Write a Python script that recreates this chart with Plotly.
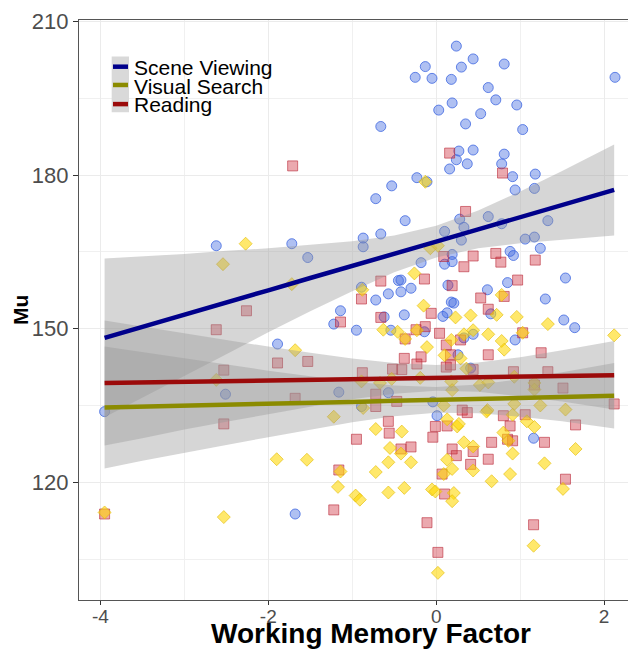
import plotly.graph_objects as go

# ---------------- data ----------------
scene_x = [0.24, 0.44, 0.81, -0.13, 0.30, -0.25, -0.05, 0.18, 2.13, 0.62, 0.71, 0.96, 0.19, 0.03, 0.53,
           -0.66, 0.35, 1.03, 0.27, 0.44, 0.81, 0.24, 0.37, 0.78, 0.16, -0.23, -0.11, 0.91, 1.18, -0.53,
           -0.72, 0.94, 1.17, 0.62, 0.28, -0.37, 1.33, 0.78, 0.33, -0.66, -0.87, -0.87, -1.53, 0.10, -0.18,
           0.10, 0.19, 0.19, 0.30, 1.06, 1.17, 1.24, 0.88, 0.92, -0.45, -0.42, -0.30, -0.57, -0.42, -0.72,
           -0.89, 0.14, -1.14, -1.22, -0.95, -0.62, -0.38, -0.54, -0.14, 0.08, 0.13, 0.18, 0.21, 1.54, 1.30,
           0.85, 0.61, 1.52, 1.65, 0.65, 0.94, 0.44, 0.33, 0.41, 0.26, -1.16, -0.57, -0.04, -0.89, 0.01,
           1.16, -2.62, -1.72, -1.89, -2.51, -3.95, -1.68]
scene_y = [205.2, 202.7, 201.7, 201.2, 201.1, 199.1, 198.9, 198.7, 199.1, 197.1, 194.7, 193.7, 194.1, 192.7, 192.0,
           189.5, 190.0, 188.9, 184.7, 184.9, 184.1, 183.0, 182.2, 182.2, 181.2, 179.5, 178.7, 179.7, 180.2, 177.9,
           175.4, 177.1, 177.4, 171.9, 171.4, 171.1, 171.1, 170.5, 169.8, 168.5, 167.7, 166.0, 163.9, 169.0, 162.9,
           162.6, 163.1, 164.5, 167.3, 167.5, 167.9, 165.7, 165.1, 164.3, 159.4, 159.5, 157.9, 156.8, 157.2, 155.6,
           158.1, 158.5, 153.5, 150.9, 149.7, 152.3, 152.7, 149.7, 149.4, 152.4, 153.1, 155.2, 155.0, 159.9, 155.8,
           159.0, 157.6, 151.7, 150.2, 152.9, 147.8, 148.9, 148.2, 142.3, 144.9, 137.6, 137.5, 135.7, 134.8, 133.0,
           128.6, 166.2, 166.6, 147.0, 137.2, 133.8, 113.8]

reading_x = [-1.71, 0.16, 0.79, 0.35, -2.26, -2.62, -1.89, -1.53, -2.53, -1.68, -2.53, -3.95, -0.66, -0.14, -0.89,
             -1.14, -0.66, -0.06, -0.24, -0.13, 0.04, 0.09, 0.19, -0.38, -0.18, 0.44, 0.71, 0.77, 0.33, 1.18,
             0.97, 0.81, 0.53, 0.62, 1.25, 0.62, 0.29, 0.12, 0.17, 0.17, 0.12, 0.44, 0.92, 1.33, 1.51,
             2.12, -0.23, -0.52, -0.41, -0.88, -0.72, -0.72, -0.47, -0.57, -0.56, -0.95, -0.42, -0.30, -0.01, -0.04,
             0.13, 0.19, 0.24, -1.16, 0.07, 0.10, -1.22, -0.11, 0.02, 1.17, 0.31, 0.37, 0.80, 1.06, 0.88,
             1.66, 0.66, 0.91, 0.85, 1.29, 0.44, 0.62, 0.41, 1.54, 1.16, 1.03, -0.37]
reading_y = [181.8, 184.3, 180.4, 172.9, 153.5, 149.8, 143.3, 143.6, 141.9, 136.4, 131.4, 113.8, 159.3, 159.7, 155.8,
             151.3, 152.2, 153.0, 149.8, 150.4, 149.1, 164.1, 158.4, 144.2, 144.5, 164.2, 164.7, 163.0, 162.1, 163.4,
             159.5, 156.3, 156.0, 153.8, 145.3, 144.9, 147.8, 146.8, 144.9, 142.9, 142.5, 142.0, 141.6, 141.6, 138.4,
             135.3, 143.1, 142.1, 142.0, 141.4, 137.2, 134.8, 135.8, 131.9, 129.6, 128.4, 126.5, 126.9, 130.9, 128.8,
             131.0, 126.5, 125.2, 122.4, 121.6, 117.7, 114.6, 112.1, 106.3, 139.0, 134.1, 133.6, 133.0, 133.2, 131.0,
             131.2, 127.8, 128.1, 128.4, 127.8, 126.0, 124.5, 123.5, 120.6, 111.7, 149.2, 148.0]

visual_x = [-0.13, -2.27, -2.54, -1.72, -1.68, -2.62, -1.90, -1.54, -3.95, -2.53, -0.26, -0.07, 0.02, -0.88, -0.15,
            -0.63, -0.46, -0.37, -0.23, -0.11, 0.18, 0.23, 0.41, 0.72, 0.96, 1.33, 0.78, 0.62, 0.78, 0.81,
            0.44, 0.33, 0.10, 0.29, 0.36, 2.12, 1.03, 0.52, 0.62, 0.18, 0.19, -1.22, 0.09, 0.61, 0.93,
            1.24, 1.54, -0.19, -0.53, -0.89, -0.67, -0.87, -0.72, -0.41, -0.55, -0.42, -0.30, -0.57, 0.13, 0.25,
            0.13, 0.19, 0.09, -1.14, -0.72, -1.17, -0.96, -0.91, -0.57, -0.38, -0.05, -0.01, 0.21, 0.19, 1.17,
            1.17, 0.93, 0.60, 0.91, 1.08, 1.17, 0.27, 0.80, 0.86, 0.33, 0.44, 0.91, 1.66, 1.29, 0.44,
            0.88, 0.66, 1.51, 1.16, 0.02]
visual_y = [178.7, 166.6, 162.6, 158.7, 145.8, 140.0, 124.5, 124.4, 114.1, 113.2, 160.8, 165.7, 166.2, 157.6, 154.5,
            149.8, 149.4, 148.0, 149.7, 146.4, 147.8, 152.2, 152.6, 152.7, 152.3, 150.9, 156.6, 148.9, 147.6, 145.9,
            149.7, 148.9, 144.8, 144.2, 142.2, 148.7, 149.2, 139.0, 139.5, 139.7, 138.0, 132.8, 135.0, 134.1, 135.3,
            135.0, 134.2, 140.4, 140.2, 139.7, 139.4, 134.5, 130.4, 129.9, 126.7, 125.6, 123.9, 123.9, 132.3, 130.9,
            124.4, 122.6, 121.6, 122.1, 122.0, 119.1, 117.4, 116.6, 118.0, 118.9, 118.6, 118.2, 117.9, 116.3, 139.4,
            138.1, 140.6, 133.8, 133.2, 131.9, 130.8, 131.4, 129.7, 128.1, 127.8, 127.0, 125.6, 126.5, 123.7, 122.3,
            121.6, 120.2, 118.7, 107.6, 102.3]

# fitted-line confidence bands
band_x = [-3.95, -3.5, -3.0, -2.5, -2.0, -1.5, -1.0, -0.5, 0.0, 0.5, 1.0, 1.5, 2.12]
scene_lo = [132.7, 136.5, 140.8, 145.0, 149.3, 153.4, 157.3, 161.0, 163.9, 165.7, 166.7, 167.4, 168.2]
scene_hi = [163.7, 164.1, 164.6, 165.2, 165.7, 166.4, 167.1, 168.2, 170.1, 173.1, 176.8, 180.8, 186.0]
reading_lo = [127.2, 128.6, 130.3, 131.8, 133.3, 134.8, 136.2, 137.3, 137.9, 137.7, 136.8, 135.8, 134.2]
reading_hi = [151.6, 150.4, 149.1, 147.8, 146.5, 145.3, 144.2, 143.3, 142.9, 143.4, 144.4, 145.8, 147.6]
visual_lo = [122.7, 124.2, 125.8, 127.3, 128.8, 130.3, 131.7, 132.9, 133.6, 133.5, 132.8, 131.9, 130.5]
visual_hi = [146.5, 145.4, 144.2, 143.1, 141.8, 140.7, 139.7, 138.9, 138.6, 139.1, 140.1, 141.5, 143.3]

series_names = ["Scene Viewing", "Visual Search", "Reading"]
x_ticks = [-4, -2, 0, 2]
y_ticks = [120, 150, 180, 210]

# ---------------- figure ----------------
FONT = "Liberation Sans, Arial, sans-serif"
fig = go.Figure()

fig.add_trace(go.Scatter(x=scene_x, y=scene_y, mode="markers", showlegend=False,
                         marker=dict(symbol="circle", size=10, color="rgba(65,105,225,0.42)",
                                     line=dict(color="rgba(65,105,225,0.8)", width=1))))
fig.add_trace(go.Scatter(x=reading_x, y=reading_y, mode="markers", showlegend=False,
                         marker=dict(symbol="square", size=10, color="rgba(205,40,55,0.4)",
                                     line=dict(color="rgba(185,40,55,0.6)", width=1))))
fig.add_trace(go.Scatter(x=visual_x, y=visual_y, mode="markers", showlegend=False,
                         marker=dict(symbol="diamond", size=10, color="rgba(255,215,0,0.58)",
                                     line=dict(color="rgba(225,185,0,0.6)", width=1))))

bands = [(scene_lo, scene_hi), (visual_lo, visual_hi), (reading_lo, reading_hi)]
for lo, hi in bands:
    fig.add_trace(go.Scatter(x=band_x + band_x[::-1], y=hi + lo[::-1], mode="lines",
                             fill="toself", fillcolor="rgba(153,153,153,0.4)",
                             line=dict(width=0), hoverinfo="skip", showlegend=False))

line_colors = ["#00008B", "#8B8B00", "#9B0A0A"]
for (lo, hi), col in zip(bands[::-1], line_colors[::-1]):
    mid = [(a + b) / 2 for a, b in zip(lo, hi)]
    fig.add_trace(go.Scatter(x=band_x, y=mid, mode="lines", showlegend=False,
                             line=dict(color=col, width=4.5)))

# ---- manual legend (ggplot style, inside the panel) ----
shapes = [dict(type="rect", xref="paper", yref="paper", x0=0.0587, x1=0.0898, y0=0.841, y1=0.937,
               fillcolor="#D9D9D9", line=dict(width=0), layer="above")]
key_y = [0.9195, 0.888, 0.855]
for ky, col in zip(key_y, line_colors):
    shapes.append(dict(type="line", xref="paper", yref="paper", x0=0.061, x1=0.088, y0=ky, y1=ky,
                       line=dict(color=col, width=4.5), layer="above"))

annotations = []
text_y = [0.918, 0.886, 0.854]
for name, ty in zip(series_names, text_y):
    annotations.append(dict(text=name, xref="paper", yref="paper", x=0.095, y=ty, xanchor="left",
                            yanchor="middle", showarrow=False, font=dict(family=FONT, size=21, color="black")))
annotations.append(dict(text="<b>Working Memory Factor</b>", xref="paper", yref="paper", x=0.524, y=-0.088,
                        xanchor="center", yanchor="bottom", showarrow=False,
                        font=dict(family=FONT, size=28, color="black")))
annotations.append(dict(text="<b>Mu</b>", xref="paper", yref="paper", x=-0.106, y=0.5, textangle=-90,
                        xanchor="center", yanchor="middle", showarrow=False,
                        font=dict(family=FONT, size=21, color="black")))

# the page body adds an 8 px offset, so the figure is 8 px smaller and margins are reduced by 8
fig.update_layout(
    width=628, height=644,
    margin=dict(l=71, r=0, t=12, b=52, autoexpand=False),
    paper_bgcolor="white", plot_bgcolor="white",
    showlegend=False,
    shapes=shapes, annotations=annotations,
    font=dict(family=FONT),
    xaxis=dict(range=[-4.255, 2.38], tickvals=x_ticks, ticktext=[str(v) for v in x_ticks],
               ticks="outside", ticklen=4, tickcolor="#333333", tickwidth=1,
               ticklabelstandoff=-5,
               tickfont=dict(family=FONT, size=19, color="#4D4D4D"),
               showgrid=True, gridcolor="#EBEBEB", gridwidth=1,
               minor=dict(dtick=1, tick0=0, showgrid=True, gridcolor="#F0F0F0", ticks=""),
               showline=True, linecolor="#555555", linewidth=1.3, mirror=True, zeroline=False),
    yaxis=dict(range=[97.0, 210.3], tickvals=y_ticks, ticktext=[str(v) for v in y_ticks],
               ticks="outside", ticklen=5, tickcolor="#333333", tickwidth=1,
               tickfont=dict(family=FONT, size=22, color="#4D4D4D"),
               showgrid=True, gridcolor="#EBEBEB", gridwidth=1,
               minor=dict(dtick=15, tick0=0, showgrid=True, gridcolor="#F0F0F0", ticks=""),
               showline=True, linecolor="#555555", linewidth=1.3, mirror=False, zeroline=False),
)

fig.write_html("out.html")
